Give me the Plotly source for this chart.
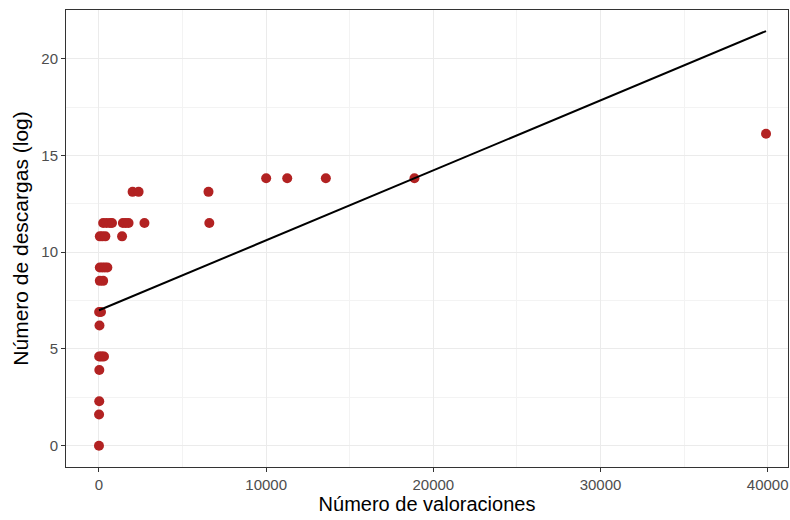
import plotly.graph_objects as go

# Data
valoraciones = [0, 5, 15, 20,
                10, 100, 200, 300,
                30,
                10, 120,
                50, 250,
                50, 200, 350, 500,
                50, 200, 380, 1380,
                250, 450, 650, 780, 1430, 1600, 1770, 2720, 6600,
                2010, 2370, 6550,
                10000, 11260, 13570, 18870,
                39900]
descargas_log = [0.0, 1.61, 2.30, 3.91,
                 4.61, 4.61, 4.61, 4.61,
                 6.21,
                 6.91, 6.91,
                 8.52, 8.52,
                 9.21, 9.21, 9.21, 9.21,
                 10.82, 10.82, 10.82, 10.82,
                 11.51, 11.51, 11.51, 11.51, 11.51, 11.51, 11.51, 11.51, 11.51,
                 13.12, 13.12, 13.12,
                 13.82, 13.82, 13.82, 13.82,
                 16.12]

# Fitted regression line (endpoints)
ajuste_x = [0, 39900]
ajuste_y = [7.0, 21.43]

x_ticks = [0, 10000, 20000, 30000, 40000]
y_ticks = [0, 5, 10, 15, 20]

fig = go.Figure()
fig.add_trace(go.Scatter(
    x=valoraciones, y=descargas_log, mode="markers",
    marker=dict(color="#B22222", size=10, line=dict(width=0)),
    showlegend=False, hoverinfo="x+y"))
fig.add_trace(go.Scatter(
    x=ajuste_x, y=ajuste_y, mode="lines",
    line=dict(color="black", width=2),
    showlegend=False, hoverinfo="skip"))

FONT = "Liberation Sans, Arial, sans-serif"
axis_common = dict(
    showline=True, mirror=True, linecolor="#333333", linewidth=1,
    ticks="outside", ticklen=4, tickcolor="#333333", tickwidth=1,
    showgrid=True, gridcolor="#EBEBEB", gridwidth=1,
    zeroline=False,
    tickfont=dict(family=FONT, size=15, color="#4D4D4D"),
)

fig.update_layout(
    width=790, height=520,
    margin=dict(l=66, r=2, t=10, b=53),
    paper_bgcolor="white", plot_bgcolor="white",
    font=dict(family=FONT),
    xaxis=dict(
        range=[-1973, 41214], tickvals=x_ticks, ticktext=[str(v) for v in x_ticks],
        minor=dict(showgrid=True, dtick=5000, tick0=5000, gridcolor="#F3F3F3", gridwidth=1, ticks=""),
        title=dict(text="Número de valoraciones",
                   font=dict(size=20, color="black"), standoff=2),
        **axis_common),
    yaxis=dict(
        range=[-1.1, 22.52], tickvals=y_ticks, ticktext=[str(v) for v in y_ticks],
        minor=dict(showgrid=True, dtick=5, tick0=2.5, gridcolor="#F3F3F3", gridwidth=1, ticks=""),
        title=dict(text="Número de descargas (log)",
                   font=dict(size=21, color="black"), standoff=6),
        **axis_common),
)

fig.write_html("out.html")
